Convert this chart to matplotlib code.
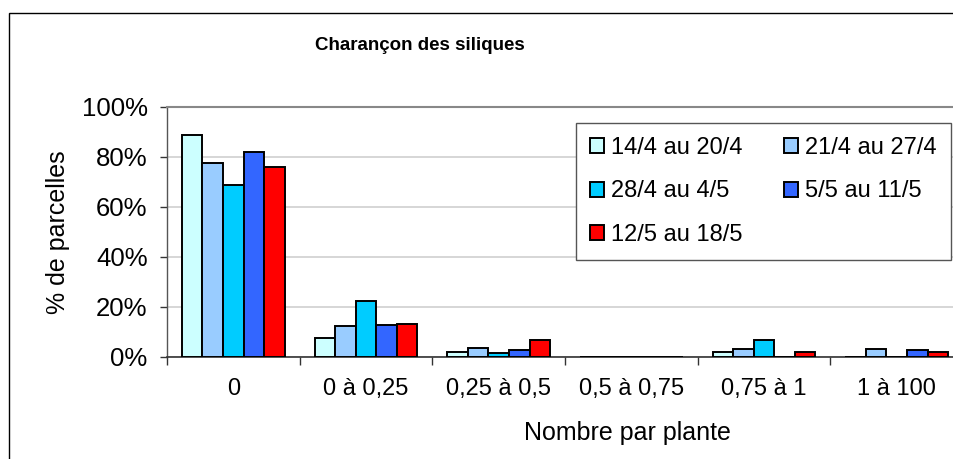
import numpy as np
import matplotlib
matplotlib.use("Agg")
import matplotlib.pyplot as plt
from matplotlib.patches import Rectangle

plt.rcParams['font.family'] = ['Liberation Sans', 'DejaVu Sans']

categories = ["0", "0 à 0,25", "0,25 à 0,5", "0,5 à 0,75", "0,75 à 1", "1 à 100"]
series = ["14/4 au 20/4", "21/4 au 27/4", "28/4 au 4/5", "5/5 au 11/5", "12/5 au 18/5"]
s1 = [89, 7.5, 2.0, 0, 2.0, 0]
s2 = [77.5, 12.5, 3.5, 0, 3.4, 3.4]
s3 = [69, 22.5, 1.8, 0, 6.7, 0]
s4 = [82, 12.8, 2.7, 0, 0, 2.7]
s5 = [76, 13.3, 6.7, 0, 2.0, 2.0]
values = [s1, s2, s3, s4, s5]
colors = ["#CCFFFF", "#99CCFF", "#00CCFF", "#3366FF", "#FF0000"]

W, H = 954, 459
fig = plt.figure(figsize=(W / 100, H / 100), dpi=100)
fig.patch.set_facecolor("white")

# plot area (right edge runs past the picture, as in the reference)
x0, x1, y0, y1 = 167, 963, 107, 357
ax = fig.add_axes([x0 / W, 1 - y1 / H, (x1 - x0) / W, (y1 - y0) / H])

x = np.arange(len(categories))
bw = 0.155
handles = []
for i, (name, vals, c) in enumerate(zip(series, values, colors)):
    h = ax.bar(x + (i - 2) * bw, np.array(vals) / 100, bw, color=c,
               edgecolor="black", linewidth=1.4, label=name, zorder=3)
    handles.append(h)

ax.set_xlim(-0.5, len(categories) - 0.5)
ax.set_ylim(0, 1)
ax.set_yticks(np.arange(0, 1.01, 0.2))
ax.set_yticklabels([f"{int(v * 100)}%" for v in np.arange(0, 1.01, 0.2)])
ax.set_xticks(x)
ax.set_xticklabels(categories)
ax.set_xticks(np.arange(-0.5, len(categories)), minor=True)
ax.tick_params(axis="x", which="major", length=0, pad=15, labelsize=17)
ax.tick_params(axis="x", which="minor", length=6, width=1, color="#333333", direction="out")
ax.tick_params(axis="y", length=5, width=1, color="#333333", pad=9, labelsize=18.5)
ax.yaxis.grid(True, color="#D0D0D0", linewidth=1.2, zorder=0)
ax.set_axisbelow(True)

ax.spines["right"].set_visible(False)
ax.spines["top"].set_color("#888888")
ax.spines["top"].set_linewidth(1.5)
ax.spines["left"].set_color("#555555")
ax.spines["bottom"].set_color("#333333")
ax.spines["left"].set_linewidth(1)
ax.spines["bottom"].set_linewidth(1.2)

order = [0, 2, 4, 1, 3]
leg = ax.legend([handles[k] for k in order], [series[k] for k in order],
                ncol=2, loc="upper left", bbox_to_anchor=(576 / W, 1 - 123 / H),
                bbox_transform=fig.transFigure, borderaxespad=0, fontsize=17,
                handlelength=0.6, handleheight=0.6, handletextpad=0.3,
                columnspacing=1.75, labelspacing=0.9, borderpad=0.6,
                fancybox=False, framealpha=1, edgecolor="#555555")
leg.get_frame().set_linewidth(1)

fig.text(420 / W, 1 - 45 / H, "Charançon des siliques", ha="center", va="center",
         fontsize=13.5, fontweight="bold")
fig.text(58 / W, 1 - 232 / H, "% de parcelles", ha="center", va="center",
         rotation=90, fontsize=18)
fig.text(627 / W, 1 - 433 / H, "Nombre par plante", ha="center", va="center",
         fontsize=18)

# chart border
fig.add_artist(Rectangle((9 / W, -0.2), 1.5, 1.2 - 13 / H, transform=fig.transFigure,
                         fill=False, edgecolor="black", linewidth=1, clip_on=False))

fig.savefig("out.png", dpi=100)
